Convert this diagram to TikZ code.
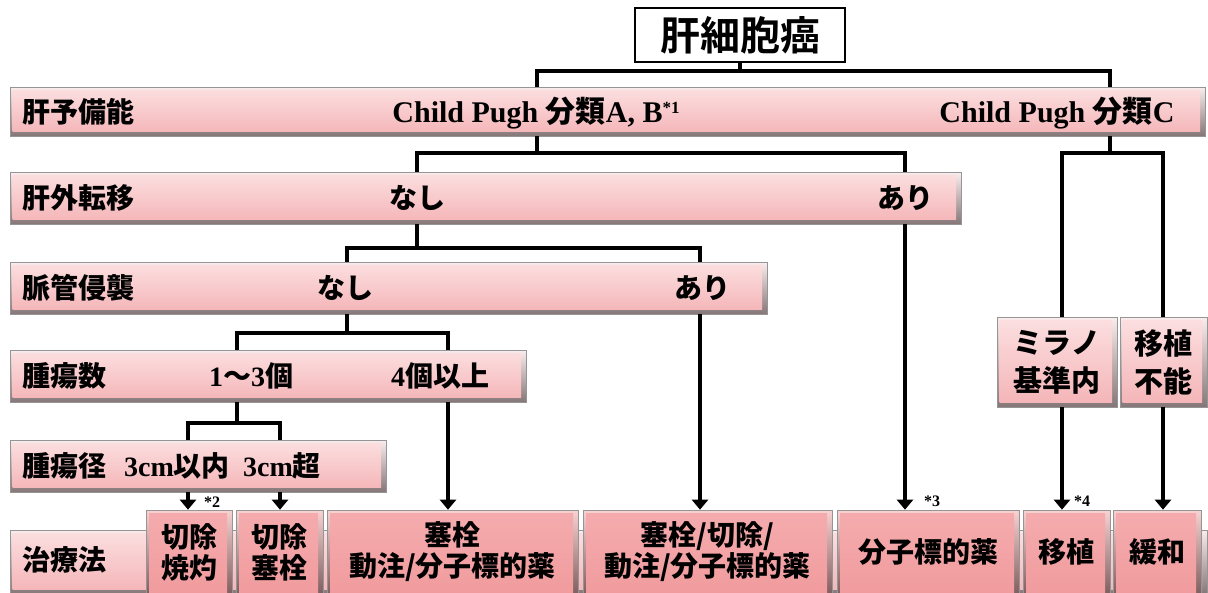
\documentclass[tikz,border=0pt]{standalone}
\usepackage{fontspec}
\setmainfont{Liberation Serif}
\newfontfamily\jp{Noto Sans CJK JP Bold}
\usetikzlibrary{arrows.meta}
\definecolor{bartop}{HTML}{FCE0E1}
\definecolor{barbot}{HTML}{F4B3B6}
\definecolor{rimtop}{HTML}{FBEDED}
\definecolor{rimbot}{HTML}{857677}
\definecolor{boxtop}{HTML}{F5ACAE}
\definecolor{boxbot}{HTML}{F09A9C}
\definecolor{boxrimtop}{HTML}{F9D2D2}
\definecolor{boxrimbot}{HTML}{765657}
\definecolor{edge}{HTML}{959595}
\newcommand\J[1]{{\jp #1}}
\newcommand\fs[1]{\fontsize{#1}{#1}\selectfont}
\newcommand\supm[1]{\raisebox{9pt}{\fontsize{17}{17}\selectfont #1}}
\begin{document}
\begin{tikzpicture}[x=1pt,y=-1pt,
  bar/.style={draw=edge, line width=0.6pt, top color=rimtop, bottom color=rimbot, inner sep=0pt,
    path picture={\shade[top color=bartop, bottom color=barbot]
      ([shift={(2.5pt,-3pt)}]path picture bounding box.north west) rectangle
      ([shift={(-5pt,5pt)}]path picture bounding box.south east);}},
  tbox/.style={draw=edge, line width=0.6pt, top color=boxrimtop, bottom color=boxrimbot, inner sep=0pt,
    path picture={\shade[top color=boxtop, bottom color=boxbot]
      ([shift={(3pt,-3.5pt)}]path picture bounding box.north west) rectangle
      ([shift={(-5pt,5pt)}]path picture bounding box.south east);}},
  titlebox/.style={draw=black, line width=2pt, fill=white, inner sep=0pt},
  lab/.style={inner sep=0pt, font=\fs{28}\bfseries, text height=21pt, text depth=0pt},
  cp/.style={inner sep=0pt, font=\fs{30}\bfseries, text height=21pt, text depth=0pt},
  multi/.style={inner sep=0pt, align=center, font=\fontsize{28}{31}\selectfont\bfseries},
  note/.style={inner sep=0pt, font=\fs{16}\bfseries},
  conn/.style={line width=3.2pt, line join=miter, draw=black},
  arr/.style={conn, -{Triangle[width=16pt,length=10pt]}}
]
\useasboundingbox (0,0) rectangle (1208,592);
\clip (0,0) rectangle (1208,592);
\fill[white] (0,0) rectangle (1208,592);

% column coordinates
\coordinate (xA) at (537,0);
\coordinate (xC) at (1110,0);
\coordinate (xN2) at (417,0);
\coordinate (xY2) at (905,0);
\coordinate (xN3) at (347,0);
\coordinate (xY3) at (700,0);
\coordinate (xS) at (237,0);
\coordinate (xM) at (448,0);
\coordinate (xP) at (188,0);
\coordinate (xQ) at (280,0);
\coordinate (xMil) at (1062,0);
\coordinate (xNo) at (1163,0);

% title
\node[titlebox, minimum width=210, minimum height=54] (title) at (740,35) {\fs{40}\J{肝細胞癌}};

% rows
\node[bar, minimum width=1195, minimum height=49] (r1) at (607.5,111.5) {};
\node[bar, minimum width=951, minimum height=52] (r2) at (485.5,198) {};
\node[bar, minimum width=757, minimum height=52] (r3) at (388.5,288) {};
\node[bar, minimum width=516, minimum height=52] (r4) at (268,376) {};
\node[bar, minimum width=376, minimum height=52] (r5) at (198,466) {};
\node[bar, minimum width=1197, minimum height=64] (r6) at (608.5,562) {};

% milan boxes
\node[bar, minimum width=120, minimum height=90] (mil) at (1057,362) {};
\node[bar, minimum width=87, minimum height=90] (nog) at (1163.5,362) {};
\node[multi, font=\fontsize{29}{38}\selectfont\bfseries] (milt) at (1057,362) {\J{ミラノ}\\\J{基準内}};
\node[multi, font=\fontsize{29}{38}\selectfont\bfseries] (nogt) at (1163.5,362) {\J{移植}\\\J{不能}};

% row texts
\node[lab, anchor=west] (l1) at (22,112) {\J{肝予備能}};
\node[cp] (c1) at (536,112) {Child Pugh \J{分類}A, B\supm{*1}};
\node[cp] (c2) at (1057,112) {Child Pugh \J{分類}C};
\node[lab, anchor=west] (l2) at (22,198) {\J{肝外転移}};
\node[lab] (n2) at (417,198) {\J{なし}};
\node[lab] (y2) at (905,198) {\J{あり}};
\node[lab, anchor=west] (l3) at (22,288) {\J{脈管侵襲}};
\node[lab] (n3) at (345,288) {\J{なし}};
\node[lab] (y3) at (702,288) {\J{あり}};
\node[lab, anchor=west] (l4) at (22,376) {\J{腫瘍数}};
\node[lab] (s4) at (251,376) {1\J{〜}3\J{個}};
\node[lab] (m4) at (440,376) {4\J{個以上}};
\node[lab, anchor=west] (l5) at (22,466) {\J{腫瘍径}};
\node[lab, anchor=west] (p5) at (124,466) {3cm\J{以内}};
\node[lab, anchor=west] (q5) at (243,466) {3cm\J{超}};
\node[lab, anchor=west] (l6) at (22,560) {\J{治療法}};

% treatment boxes
\node[tbox, minimum width=86, minimum height=90] (b1) at (189,555) {};
\node[tbox, minimum width=87, minimum height=90] (b2) at (279.5,555) {};
\node[tbox, minimum width=251, minimum height=90] (b3) at (452.5,555) {};
\node[tbox, minimum width=249, minimum height=90] (b4) at (707.5,555) {};
\node[tbox, minimum width=182, minimum height=90] (b5) at (928,555) {};
\node[tbox, minimum width=87, minimum height=90] (b6) at (1066.5,555) {};
\node[tbox, minimum width=88, minimum height=90] (b7) at (1157,555) {};
\node[multi] (b1t) at (189,552) {\J{切除}\\\J{焼灼}};
\node[multi] (b2t) at (279.5,552) {\J{切除}\\\J{塞栓}};
\node[multi] (b3t) at (452.5,552) {\J{塞栓}\\\J{動注/分子標的薬}};
\node[multi] (b4t) at (707.5,552) {\J{塞栓/切除/}\\\J{動注/分子標的薬}};
\node[lab] (b5t) at (928,552) {\J{分子標的薬}};
\node[lab] (b6t) at (1066.5,552) {\J{移植}};
\node[lab] (b7t) at (1157,552) {\J{緩和}};

% notes
\node[note] (n2s) at (212,502) {*2};
\node[note] (n3s) at (932,501) {*3};
\node[note] (n4s) at (1082,501) {*4};

% connectors
\coordinate (j0) at (740,71);
\draw[conn] (title.south) -- (j0) -| (xA |- r1.north);
\draw[conn] (j0) -| (xC |- r1.north);
\coordinate (j1) at (537,153);
\draw[conn] (xA |- r1.south) -- (j1) -| (xN2 |- r2.north);
\draw[conn] (j1) -| (xY2 |- r2.north);
\coordinate (j2) at (1110,153);
\draw[conn] (xC |- r1.south) -- (j2) -| (xMil |- mil.north);
\draw[conn] (j2) -| (xNo |- nog.north);
\coordinate (j3) at (417,248);
\draw[conn] (xN2 |- r2.south) -- (j3) -| (xN3 |- r3.north);
\draw[conn] (j3) -| (xY3 |- r3.north);
\coordinate (j4) at (347,333);
\draw[conn] (xN3 |- r3.south) -- (j4) -| (xS |- r4.north);
\draw[conn] (j4) -| (xM |- r4.north);
\coordinate (j5) at (237,423);
\draw[conn] (xS |- r4.south) -- (j5) -| (xP |- r5.north);
\draw[conn] (j5) -| (xQ |- r5.north);
% arrows
\draw[arr] (xP |- r5.south) -- (xP |- b1.north);
\draw[arr] (xQ |- r5.south) -- (xQ |- b2.north);
\draw[arr] (xM |- r4.south) -- (xM |- b3.north);
\draw[arr] (xY3 |- r3.south) -- (xY3 |- b4.north);
\draw[arr] (xY2 |- r2.south) -- (xY2 |- b5.north);
\draw[arr] (xMil |- mil.south) -- (xMil |- b6.north);
\draw[arr] (xNo |- nog.south) -- (xNo |- b7.north);
\end{tikzpicture}
\end{document}
